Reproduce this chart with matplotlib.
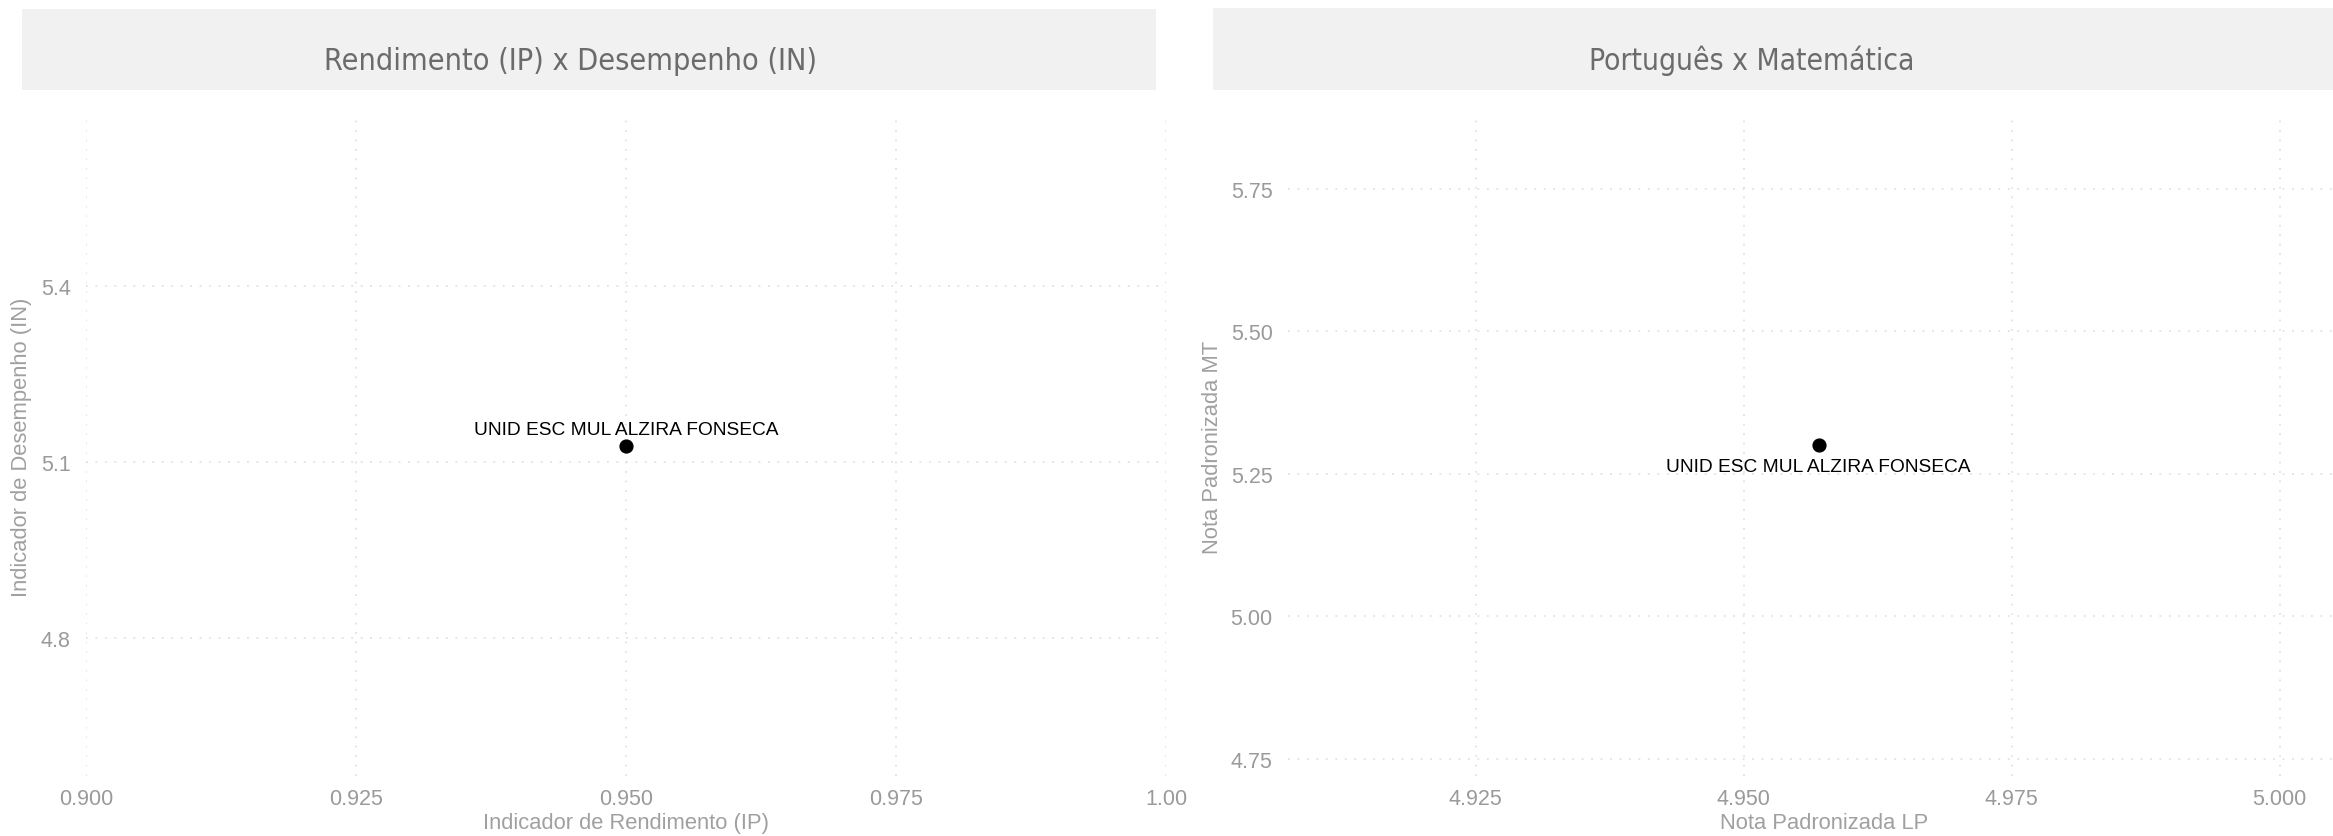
import matplotlib.pyplot as plt
from matplotlib import font_manager as fm
from matplotlib.patches import Rectangle

# dados da escola
escola = ["UNID ESC MUL ALZIRA FONSECA"]
ip = [0.95]
indicador_in = [5.128]
nota_lp = [4.957]
nota_mt = [5.300]

# eixos e rótulos
x1_ticks = [0.900, 0.925, 0.950, 0.975, 1.000]
x1_labels = ["0.900", "0.925", "0.950", "0.975", "1.00"]
y1_ticks = [4.8, 5.1, 5.4]
y1_labels = ["4.8", "5.1", "5.4"]
x2_ticks = [4.925, 4.950, 4.975, 5.000]
x2_labels = ["4.925", "4.950", "4.975", "5.000"]
y2_ticks = [4.75, 5.00, 5.25, 5.50, 5.75]
y2_labels = ["4.75", "5.00", "5.25", "5.50", "5.75"]

W, H = 2333, 837
fig = plt.figure(figsize=(W / 100, H / 100), dpi=100)
fig.patch.set_facecolor("white")

TICK_C = "#9a9a9a"
LAB_C = "#a0a0a0"
TITLE_C = "#6b6b6b"
STRIP_C = "#f1f1f1"
FONT = "Liberation Sans"

# fonte condensada para os títulos, se houver alguma instalada
title_prop = None
for f in fm.fontManager.ttflist:
    nome = (f.name + " " + f.fname).lower()
    if ("narrow" in nome or "condensed" in nome) and f.style == "normal" \
            and "bold" not in nome and "light" not in nome:
        title_prop = fm.FontProperties(fname=f.fname)
        break
if title_prop is None:
    title_prop = fm.FontProperties(family="Liberation Sans")


def px_axes(x0, x1, ytop, ybot):
    return fig.add_axes([x0 / W, (H - ybot) / H, (x1 - x0) / W, (ybot - ytop) / H])


def estilo(ax, xt, xl, yt, yl, xlim, ylim):
    ax.set_xlim(*xlim)
    ax.set_ylim(*ylim)
    ax.set_xticks(xt)
    ax.set_xticklabels(xl, fontfamily=FONT)
    ax.set_yticks(yt)
    ax.set_yticklabels(yl, fontfamily=FONT)
    for s in ax.spines.values():
        s.set_visible(False)
    ax.tick_params(length=0, labelsize=15.5, colors=TICK_C)
    ax.tick_params(axis="x", pad=9)
    ax.tick_params(axis="y", pad=11)
    ax.grid(True, color="#dedede", linewidth=1.1, linestyle=(0, (1.2, 5)))
    ax.set_axisbelow(True)


def faixa(x0, x1, y0, y1, texto, xc, largura):
    fig.patches.append(Rectangle((x0 / W, 1 - y1 / H), (x1 - x0) / W, (y1 - y0) / H,
                                 transform=fig.transFigure, facecolor=STRIP_C,
                                 edgecolor="none", zorder=0))
    t = fig.text(xc / W, 1 - 70 / H, texto, ha="center", va="baseline",
                 color=TITLE_C, fontproperties=title_prop)
    t.set_fontsize(27)
    # ajusta o tamanho para a largura medida no original
    r = fig.canvas.get_renderer()
    w = t.get_window_extent(r).width
    t.set_fontsize(min(28, 27 * largura / w))


# painel 1: Rendimento x Desempenho
ax1 = px_axes(86, 1166, 117, 777)
estilo(ax1, x1_ticks, x1_labels, y1_ticks, y1_labels, (0.9, 1.0), (4.565, 5.690))
ax1.scatter(ip, indicador_in, s=85, color="black", zorder=3)
for x, y, t in zip(ip, indicador_in, escola):
    ax1.annotate(t, (x, y), xytext=(0, 8.6), textcoords="offset points",
                 ha="center", va="baseline", fontsize=13.8, family=FONT, color="black")
ax1.set_xlabel("Indicador de Rendimento (IP)", fontsize=15.8, color=LAB_C, family=FONT, va="center")
ax1.xaxis.set_label_coords(0.5, (13 - 60) / 660)
ax1.set_ylabel("Indicador de Desempenho (IN)", fontsize=15.8, color=LAB_C, family=FONT, va="center")
ax1.yaxis.set_label_coords((22 - 86) / 1080, 0.5)
faixa(22, 1156, 10, 91, "Rendimento (IP) x Desempenho (IN)", 571, 493)

# painel 2: Português x Matemática
ax2 = px_axes(1288, 2360, 117, 777)
estilo(ax2, x2_ticks, x2_labels, y2_ticks, y2_labels, (4.9075, 5.0075), (4.720, 5.878))
ax2.scatter(nota_lp, nota_mt, s=85, color="black", zorder=3)
for x, y, t in zip(nota_lp, nota_mt, escola):
    ax2.annotate(t, (x, y), xytext=(0, -18.7), textcoords="offset points",
                 ha="center", va="baseline", fontsize=13.8, family=FONT, color="black")
ax2.set_xlabel("Nota Padronizada LP", fontsize=15.8, color=LAB_C, family=FONT, va="center")
ax2.xaxis.set_label_coords(0.5, (13 - 60) / 660)
ax2.set_ylabel("Nota Padronizada MT", fontsize=15.8, color=LAB_C, family=FONT, va="center")
ax2.yaxis.set_label_coords((1213 - 1288) / 1072, 0.5)
faixa(1213, 2345, 9, 91, "Português x Matemática", 1752, 326)

fig.savefig("out.png", dpi=100)
